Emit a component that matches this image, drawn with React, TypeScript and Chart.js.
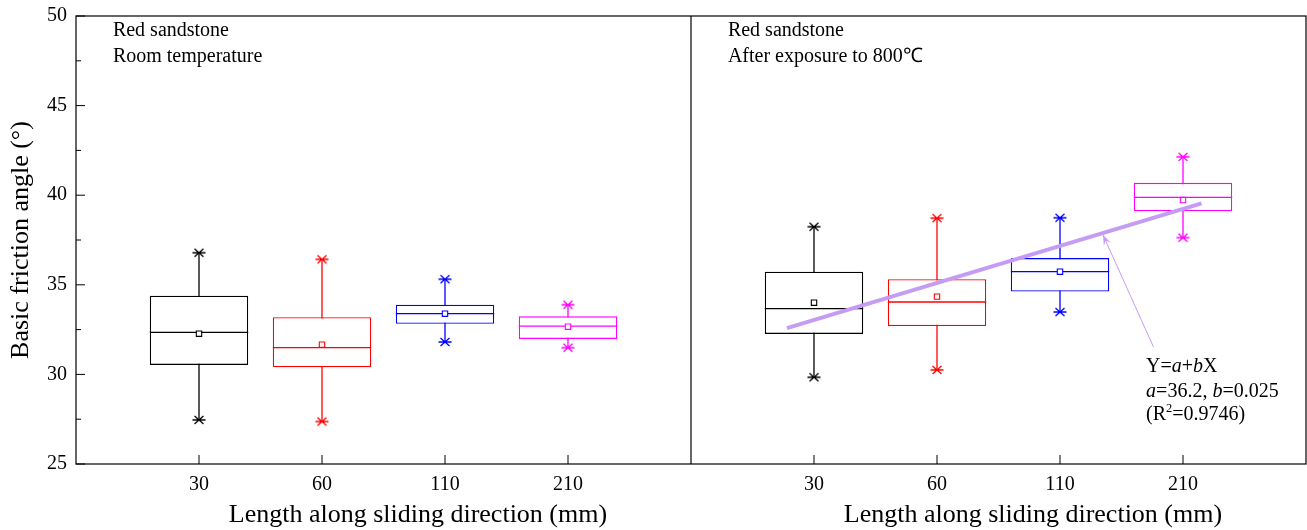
import React, { useEffect, useRef } from 'react';
import { Chart, registerables } from 'chart.js';

Chart.register(...registerables);

// ---------- data ----------
const categories = ['30', '60', '110', '210'];
const boxColors = ['#000000', '#ff0000', '#0000ff', '#ff00ff'];

// Room temperature (left panel)
const roomMin = [27.46, 27.37, 31.81, 31.49];
const roomQ1 = [30.53, 30.4, 32.82, 31.98];
const roomMedian = [32.35, 31.49, 33.39, 32.69];
const roomMean = [32.27, 31.66, 33.39, 32.66];
const roomQ3 = [34.39, 33.19, 33.89, 33.24];
const roomMax = [36.79, 36.42, 35.31, 33.89];

// After exposure to 800 °C (right panel)
const hotMin = [29.84, 30.25, 33.48, 37.63];
const hotQ1 = [32.26, 32.7, 34.63, 39.1];
const hotMedian = [33.67, 34.04, 35.73, 39.88];
const hotMean = [34.0, 34.34, 35.73, 39.73];
const hotQ3 = [35.73, 35.31, 36.49, 40.69];
const hotMax = [38.24, 38.72, 38.74, 42.14];

// category positions on the shared linear x scale
const leftPositions = [1, 2, 3, 4];
const rightPositions = [6, 7, 8, 9];
const PANEL_SPLIT = 5;

// linear fit line in right panel
const fitX = [5.78, 9.15];
const fitY = [32.58, 39.54];

// y axis ticks
const Y_MIN = 25;
const Y_MAX = 50;
const Y_STEP = 2.5;

const panelLabels = [
  ['Red sandstone', 'Room temperature'],
  ['Red sandstone', 'After exposure to 800\u2103'],
];
const xTitle = 'Length along sliding direction (mm)';
const yTitle = 'Basic friction angle (\u00b0)';

const FONT = '"Liberation Serif", "Times New Roman", Times, serif';
const FIT_COLOR = '#c49cf4';

// ---------- derived ----------
const positions = [...leftPositions, ...rightPositions];
const mins = [...roomMin, ...hotMin];
const q1s = [...roomQ1, ...hotQ1];
const medians = [...roomMedian, ...hotMedian];
const means = [...roomMean, ...hotMean];
const q3s = [...roomQ3, ...hotQ3];
const maxs = [...roomMax, ...hotMax];
const colors = [...boxColors, ...boxColors];
const tickLabels = [...categories, ...categories];

type Run = [string, boolean, boolean?];

function drawRuns(ctx: CanvasRenderingContext2D, runs: Run[], x: number, y: number, size: number) {
  let cx = x;
  for (const [text, italic, sup] of runs) {
    const fs = sup ? size * 0.62 : size;
    ctx.font = `${italic ? 'italic ' : ''}${fs}px ${FONT}`;
    ctx.fillText(text, cx, sup ? y - size * 0.4 : y);
    cx += ctx.measureText(text).width;
  }
}

// asterisk marker (horizontal arm + two diagonals), as a small canvas point style
function makeAsterisk(color: string): HTMLCanvasElement {
  const c = document.createElement('canvas');
  c.width = 16;
  c.height = 12;
  const g = c.getContext('2d')!;
  g.strokeStyle = color;
  g.lineWidth = 1.3;
  const cx = 8;
  const cy = 6;
  g.beginPath();
  g.moveTo(cx - 6.5, cy);
  g.lineTo(cx + 6.5, cy);
  g.moveTo(cx - 4.5, cy - 4);
  g.lineTo(cx + 4.5, cy + 4);
  g.moveTo(cx - 4.5, cy + 4);
  g.lineTo(cx + 4.5, cy - 4);
  g.stroke();
  return c;
}

const decorPlugin = {
  id: 'decor',
  afterDatasetsDraw(chart: any) {
    const { ctx, chartArea: a, scales } = chart;
    const x = scales.x;
    const y = scales.y;
    ctx.save();
    ctx.strokeStyle = '#000';
    ctx.lineWidth = 1.2;
    ctx.strokeRect(a.left, a.top, a.right - a.left, a.bottom - a.top);
    const xd = x.getPixelForValue(PANEL_SPLIT);
    ctx.beginPath();
    ctx.moveTo(xd, a.top);
    ctx.lineTo(xd, a.bottom);
    ctx.stroke();

    // inward y ticks
    ctx.lineWidth = 1;
    for (const t of y.ticks) {
      const py = y.getPixelForValue(t.value);
      const len = Math.abs(t.value % 5) < 1e-6 ? 9 : 5;
      ctx.beginPath();
      ctx.moveTo(a.left, py);
      ctx.lineTo(a.left + len, py);
      ctx.stroke();
    }
    // inward x ticks
    for (const v of positions) {
      const px = x.getPixelForValue(v);
      ctx.beginPath();
      ctx.moveTo(px, a.bottom);
      ctx.lineTo(px, a.bottom - 9);
      ctx.stroke();
    }

    // arrow pointing to the fit line
    const tailX = x.getPixelForValue(8.76);
    const tailY = y.getPixelForValue(31.53);
    const headX = x.getPixelForValue(8.35);
    const headY = y.getPixelForValue(37.78);
    ctx.strokeStyle = FIT_COLOR;
    ctx.fillStyle = FIT_COLOR;
    ctx.lineWidth = 1;
    ctx.beginPath();
    ctx.moveTo(tailX, tailY);
    ctx.lineTo(headX, headY);
    ctx.stroke();
    const ang = Math.atan2(headY - tailY, headX - tailX);
    const hl = 11;
    ctx.beginPath();
    ctx.moveTo(headX, headY);
    ctx.lineTo(headX - hl * Math.cos(ang - 0.35), headY - hl * Math.sin(ang - 0.35));
    ctx.lineTo(headX - hl * 0.55 * Math.cos(ang), headY - hl * 0.55 * Math.sin(ang));
    ctx.lineTo(headX - hl * Math.cos(ang + 0.35), headY - hl * Math.sin(ang + 0.35));
    ctx.closePath();
    ctx.fill();

    // texts
    ctx.fillStyle = '#000';
    ctx.textBaseline = 'alphabetic';
    ctx.textAlign = 'left';
    ctx.font = `20px ${FONT}`;
    panelLabels.forEach((lines, i) => {
      const px = x.getPixelForValue(i * PANEL_SPLIT + 0.3);
      lines.forEach((ln, j) => ctx.fillText(ln, px, a.top + 20 + j * 25.5));
    });

    const ex = x.getPixelForValue(8.7);
    const ey = y.getPixelForValue(30.16);
    drawRuns(ctx, [['Y=', false], ['a', true], ['+', false], ['b', true], ['X', false]], ex, ey, 20);
    drawRuns(ctx, [['a', true], ['=36.2, ', false], ['b', true], ['=0.025', false]], ex, ey + 25, 20);
    drawRuns(ctx, [['(R', false], ['2', false, true], ['=0.9746)', false]], ex, ey + 48.5, 20);

    // x axis titles for both panels
    ctx.textAlign = 'center';
    ctx.font = `26px ${FONT}`;
    [2.78, 7.78].forEach((v) => {
      ctx.fillText(xTitle, x.getPixelForValue(v), a.bottom + 58);
    });
    ctx.restore();
  },
};

export default function App() {
  const ref = useRef<HTMLCanvasElement>(null);
  useEffect(() => {
    if (!ref.current) return;
    Chart.defaults.font.family = FONT;
    const medianRadius = (ctx: any) => {
      const s = ctx.chart.scales.x;
      return Math.abs(s.getPixelForValue(1) - s.getPixelForValue(0)) * 0.4;
    };
    const starStyles = colors.map((c) => makeAsterisk(c));
    const chart = new Chart(ref.current, {
      type: 'scatter',
      data: {
        datasets: [
          {
            type: 'bar',
            label: 'whisker',
            data: positions.map((x, i) => ({ x, y: [mins[i], maxs[i]] })),
            backgroundColor: colors,
            borderWidth: 0,
            barThickness: 1.3,
            inflateAmount: 0,
            grouped: false,
            order: 5,
          } as any,
          {
            type: 'bar',
            label: 'box',
            data: positions.map((x, i) => ({ x, y: [q1s[i], q3s[i]] })),
            backgroundColor: '#ffffff',
            borderColor: colors,
            borderWidth: 1.3,
            borderSkipped: false,
            barPercentage: 1,
            categoryPercentage: 0.8,
            inflateAmount: 0,
            grouped: false,
            order: 4,
          } as any,
          {
            type: 'scatter',
            label: 'median',
            data: positions.map((x, i) => ({ x, y: medians[i] })),
            pointStyle: 'line',
            radius: medianRadius,
            borderColor: colors,
            borderWidth: 1.3,
            order: 3,
          } as any,
          {
            type: 'scatter',
            label: 'mean',
            data: positions.map((x, i) => ({ x, y: means[i] })),
            pointStyle: 'rect',
            radius: 3.8,
            backgroundColor: '#ffffff',
            borderColor: colors,
            borderWidth: 1.1,
            order: 2,
          } as any,
          {
            type: 'scatter',
            label: 'extremes',
            data: [
              ...positions.map((x, i) => ({ x, y: mins[i] })),
              ...positions.map((x, i) => ({ x, y: maxs[i] })),
            ],
            pointStyle: [...starStyles, ...starStyles],
            radius: 6.5,
            borderColor: [...colors, ...colors],
            borderWidth: 1.2,
            order: 1,
          } as any,
          {
            type: 'line',
            label: 'fit',
            data: fitX.map((x, i) => ({ x, y: fitY[i] })),
            borderColor: FIT_COLOR,
            borderWidth: 4,
            pointRadius: 0,
            fill: false,
            order: 0,
          } as any,
        ],
      },
      options: {
        animation: false,
        responsive: false,
        maintainAspectRatio: false,
        layout: { autoPadding: false, padding: { top: 16, right: 1, bottom: 0, left: 0 } },
        plugins: { legend: { display: false }, tooltip: { enabled: false } },
        scales: {
          x: {
            type: 'linear',
            min: 0,
            max: 10,
            offset: false,
            grid: { display: false, drawTicks: false, offset: false },
            border: { display: false },
            afterBuildTicks: (s: any) => {
              s.ticks = positions.map((v) => ({ value: v }));
            },
            afterFit: (s: any) => {
              s.height = 66;
              s.paddingLeft = 0;
              s.paddingRight = 0;
            },
            ticks: {
              autoSkip: false,
              maxRotation: 0,
              padding: 9,
              color: '#000',
              font: { size: 20, family: FONT },
              callback: (v: any) => {
                const i = positions.indexOf(Number(v));
                return i >= 0 ? tickLabels[i] : '';
              },
            },
          },
          y: {
            type: 'linear',
            min: Y_MIN,
            max: Y_MAX,
            beginAtZero: false,
            grid: { display: false, drawTicks: false },
            border: { display: false },
            afterFit: (s: any) => {
              s.width = 76;
              s.paddingTop = 0;
              s.paddingBottom = 0;
            },
            ticks: {
              stepSize: Y_STEP,
              padding: 9,
              color: '#000',
              font: { size: 20, family: FONT },
              callback: (v: any) => (Math.abs(Number(v) % 5) < 1e-6 ? String(v) : ''),
            },
            title: {
              display: true,
              text: yTitle,
              color: '#000',
              font: { size: 26, family: FONT },
              padding: { top: 6, bottom: 0 },
            },
          },
        },
      } as any,
      plugins: [decorPlugin],
    });
    return () => chart.destroy();
  }, []);

  return (
    <div style={{ position: 'fixed', left: 0, top: 0, width: 1307, height: 530, background: '#fff' }}>
      <canvas ref={ref} width={1307} height={530} style={{ display: 'block', width: 1307, height: 530 }} />
    </div>
  );
}
